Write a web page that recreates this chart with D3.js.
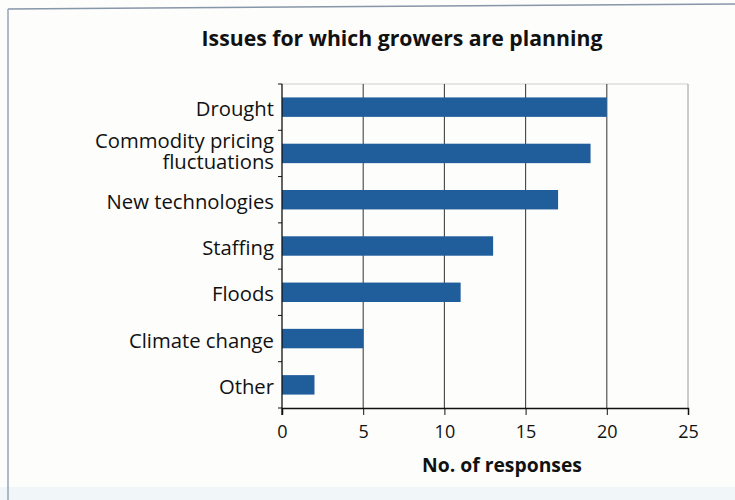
<!DOCTYPE html>
<html>
<head>
<meta charset="utf-8">
<script src="https://cdn.jsdelivr.net/npm/d3@7"></script>
<style>
  html, body { margin: 0; padding: 0; background: #fdfdfb; }
  svg { display: block; }
  text { font-family: "Open Sans", Lato, sans-serif; fill: #111; }
</style>
</head>
<body>
<svg id="chart" width="735" height="500"></svg>
<script>
const categories = ["Drought", "Commodity pricing\nfluctuations", "New technologies", "Staffing", "Floods", "Climate change", "Other"];
const values = [20, 19, 17, 13, 11, 5, 2];
const xTicks = [0, 5, 10, 15, 20, 25];
const titleText = "Issues for which growers are planning";
const xAxisTitle = "No. of responses";

const svg = d3.select("#chart");
const W = 735, H = 500;
const m = { left: 282, right: 688, top: 84, bottom: 408 };

// fit a text element's font size so that it spans a target width
function fitWidth(sel, target) {
  const node = sel.node();
  const fs = parseFloat(sel.style("font-size"));
  const w = node.getComputedTextLength();
  if (w > 0) sel.style("font-size", (fs * target / w).toFixed(2) + "px");
  return parseFloat(sel.style("font-size"));
}

// page background and scan frame
svg.append("rect").attr("x", 0).attr("y", 0).attr("width", W).attr("height", H).attr("fill", "#fdfdfb");
svg.append("rect").attr("x", 0).attr("y", 487).attr("width", W).attr("height", 13).attr("fill", "#f1f7f8");
svg.append("line").attr("x1", 8).attr("y1", 9).attr("x2", 735).attr("y2", 4)
  .attr("stroke", "#8796a8").attr("stroke-width", 1.6);
svg.append("line").attr("x1", 8).attr("y1", 9).attr("x2", 8).attr("y2", 500)
  .attr("stroke", "#9aaabb").attr("stroke-width", 1.6);

const x = d3.scaleLinear().domain([0, 25]).range([m.left, m.right]);
const y = d3.scaleBand().domain(categories).range([m.top, m.bottom]).paddingInner(0.58).paddingOuter(0.29);

// title
const title = svg.append("text").attr("x", 402).attr("y", 46).attr("text-anchor", "middle")
  .style("font-size", "21px").style("font-weight", "bold").text(titleText);
fitWidth(title, 401);

// top border of plot
svg.append("line").attr("x1", m.left).attr("x2", m.right).attr("y1", m.top).attr("y2", m.top)
  .attr("stroke", "#cfcfcf").attr("stroke-width", 1);

// gridlines
svg.append("g").selectAll("line").data(xTicks.filter(d => d > 0)).join("line")
  .attr("x1", d => x(d)).attr("x2", d => x(d)).attr("y1", m.top).attr("y2", m.bottom)
  .attr("stroke", d => d === 25 ? "#9a9a9a" : "#444")
  .attr("stroke-width", d => d === 25 ? 1 : 1.1);

// bars
svg.append("g").selectAll("rect").data(categories).join("rect")
  .attr("x", x(0)).attr("y", d => y(d))
  .attr("width", (d, i) => x(values[i]) - x(0))
  .attr("height", y.bandwidth())
  .attr("fill", "#1f5d9b");

// x axis
const xAxis = d3.axisBottom(x).tickValues(xTicks).tickSize(7).tickPadding(10);
const gx = svg.append("g").attr("transform", `translate(0,${m.bottom})`).call(xAxis);
gx.select(".domain").attr("stroke", "#111").attr("stroke-width", 1.5);
gx.selectAll(".tick line").attr("stroke", "#111");
gx.selectAll(".tick text").style("font-size", "18px").attr("fill", "#111")
  .style("font-family", "\"Open Sans\", sans-serif");

// y axis with ticks at band boundaries
svg.append("line").attr("x1", m.left).attr("x2", m.left).attr("y1", m.top).attr("y2", m.bottom + 7)
  .attr("stroke", "#111").attr("stroke-width", 1.3);
const step = y.step();
const boundaries = categories.map((d, i) => y(d) - y.paddingInner() * step / 2);
boundaries.push(m.bottom);
svg.append("g").selectAll("line").data(boundaries).join("line")
  .attr("x1", m.left - 4).attr("x2", m.left).attr("y1", d => d).attr("y2", d => d)
  .attr("stroke", "#111").attr("stroke-width", 1);

// category label size: fit the widest line to the reference width
const probe = svg.append("text").style("font-size", "18px").text("Commodity pricing");
const labelSize = fitWidth(probe, 179);
probe.remove();

const lab = svg.append("g").selectAll("text").data(categories).join("text")
  .attr("x", 274).attr("y", d => y(d) + y.bandwidth() / 2)
  .attr("text-anchor", "end").style("font-size", labelSize + "px");
lab.each(function(d) {
  const lines = d.split("\n");
  const t = d3.select(this);
  const lh = 20.5;
  lines.forEach((ln, i) => {
    let dy;
    if (i === 0) dy = lines.length === 1 ? 9 : (-(lines.length - 1) * lh / 2 + 5);
    else dy = lh;
    t.append("tspan").attr("x", 274).attr("dy", dy).text(ln);
  });
});

// axis title
const at = svg.append("text").attr("x", 502).attr("y", 472).attr("text-anchor", "middle")
  .style("font-size", "18px").style("font-weight", "bold").text(xAxisTitle);
fitWidth(at, 160);
</script>
</body>
</html>
